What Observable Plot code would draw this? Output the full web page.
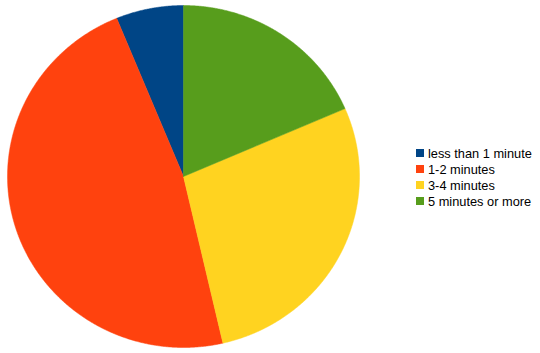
<!DOCTYPE html>
<html>
<head>
<meta charset="utf-8">
<script src="https://cdn.jsdelivr.net/npm/d3@7"></script>
<script src="https://cdn.jsdelivr.net/npm/@observablehq/plot@0.6"></script>
<style>
  html, body { margin: 0; padding: 0; background: #fff; }
  #wrap { position: relative; width: 540px; height: 353px; }
  #legend { position: absolute; left: 416px; top: 145px; font-family: "Liberation Sans", Arial, sans-serif; font-size: 12.8px; color: #000; }
  #legend .row { display: flex; align-items: center; height: 16px; white-space: nowrap; }
  #legend .sw { width: 8px; height: 8px; margin-right: 4px; flex: none; }
</style>
</head>
<body>
<div id="wrap"></div>
<script>
// Time spent, share of responses
const categories = ["less than 1 minute", "1-2 minutes", "3-4 minutes", "5 minutes or more"];
const shares = [6.2, 47.4, 27.9, 18.5];
const colors = ["#004586", "#ff420e", "#ffd320", "#579d1c"];

// Slices run counter-clockwise from 12 o'clock
const arcs = d3.pie().sort(null).startAngle(0).endAngle(-2 * Math.PI)(shares);

// Outline each slice as a polygon in unit-circle coordinates
const points = [];
arcs.forEach((a, i) => {
  const label = categories[i];
  points.push({label, x: 0, y: 0});
  const n = Math.max(2, Math.ceil(Math.abs(a.endAngle - a.startAngle) / 0.005));
  for (let k = 0; k <= n; ++k) {
    const t = a.startAngle + (a.endAngle - a.startAngle) * k / n;
    points.push({label, x: Math.sin(t), y: Math.cos(t)});
  }
  points.push({label, x: 0, y: 0});
});

const W = 540, H = 353, cx = 183, cy = 176, rx = 176, ry = 171;

const chart = Plot.plot({
  width: W,
  height: H,
  margin: 0,
  x: {domain: [-cx / rx, (W - cx) / rx], axis: null},
  y: {domain: [(cy - H) / ry, cy / ry], axis: null},
  color: {domain: categories, range: colors},
  marks: [
    Plot.line(points, {x: "x", y: "y", z: "label", fill: "label", stroke: "label", strokeWidth: 0.5, curve: "linear"})
  ]
});

const wrap = document.getElementById("wrap");
wrap.appendChild(chart);

const legend = document.createElement("div");
legend.id = "legend";
categories.forEach((c, i) => {
  const row = document.createElement("div");
  row.className = "row";
  const sw = document.createElement("span");
  sw.className = "sw";
  sw.style.background = colors[i];
  const tx = document.createElement("span");
  tx.textContent = c;
  row.appendChild(sw);
  row.appendChild(tx);
  legend.appendChild(row);
});
wrap.appendChild(legend);
</script>
</body>
</html>
